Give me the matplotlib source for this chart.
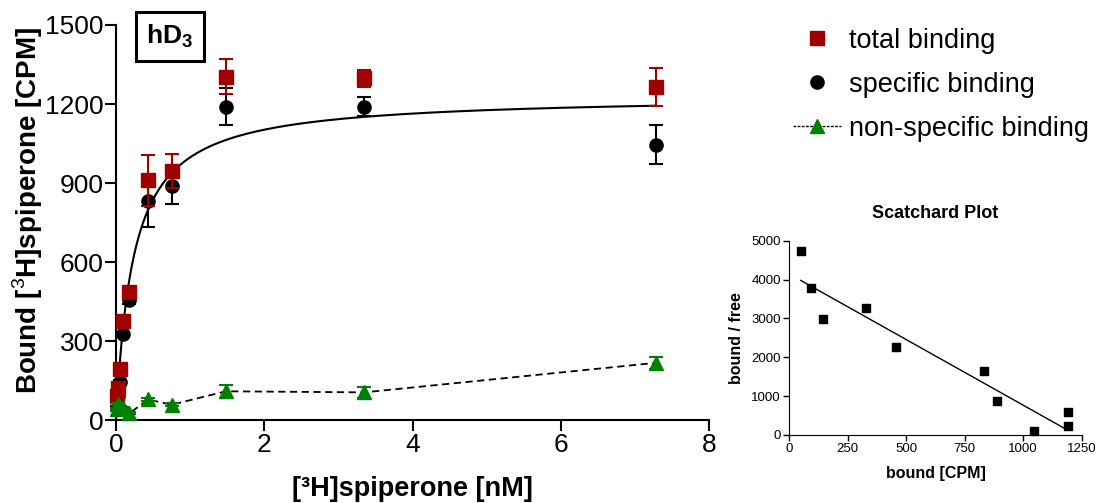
import matplotlib
matplotlib.use('Agg')
import matplotlib.pyplot as plt
from matplotlib.lines import Line2D
import numpy as np

plt.rcParams['font.family'] = ['Liberation Sans', 'DejaVu Sans']
plt.rcParams['mathtext.fontset'] = 'custom'
plt.rcParams['mathtext.rm'] = 'Liberation Sans'
plt.rcParams['mathtext.bf'] = 'Liberation Sans:bold'

# [3H]spiperone concentration (nM)
conc = [0.01, 0.03, 0.05, 0.10, 0.18, 0.43, 0.75, 1.48, 3.35, 7.28]

# binding (CPM) and SEM
total = [90, 120, 194, 376, 487, 911, 946, 1304, 1298, 1266]
total_err = [5, 5, 5, 5, 8, 97, 64, 67, 33, 72]
specific = [49, 93, 146, 327, 456, 832, 887, 1190, 1190, 1046]
specific_err = [5, 5, 5, 5, 16, 100, 68, 70, 36, 74]
nonspecific = [40, 60, 50, 45, 25, 78, 58, 109, 105, 217]
nonspecific_err = [4, 4, 4, 4, 4, 6, 6, 25, 22, 23]

# one-site fit of specific binding
bmax = 1232
kd = 0.235

# Scatchard transform
sc_bound = [48.7, 92.8, 146, 326.6, 456, 832, 886.6, 1046, 1190, 1190]
sc_ratio = [4727, 3790, 2985, 3260, 2272, 1655, 875, 103, 584, 232]
sc_slope = -3.377
sc_intercept = 4143

red = '#a00000'
green = '#008000'

fig = plt.figure(figsize=(10.99, 5.03), dpi=100)

# ---- main saturation plot ----
ax = fig.add_axes([0.1056, 0.165, 0.5396, 0.7853])

xfit = np.linspace(0, conc[-1], 300)
ax.plot(xfit, bmax * xfit / (kd + xfit), color='black', lw=1.5, zorder=2)

ax.errorbar(conc, specific, yerr=specific_err, fmt='o', color='black',
            ms=9.5, capsize=5, elinewidth=1.5, capthick=1.5, clip_on=False, zorder=3)
ax.errorbar(conc, total, yerr=total_err, fmt='s', color=red,
            ms=9.5, capsize=5, elinewidth=1.5, capthick=1.5, clip_on=False, zorder=4)
# dashed connecting line in black, triangles on top
ax.plot(conc, nonspecific, ls=(0, (4, 2.5)), color='black', lw=1.3, zorder=4.5)
ax.errorbar(conc, nonspecific, yerr=nonspecific_err, fmt='^', ls='none',
            color=green, ms=10, capsize=5,
            elinewidth=1.5, capthick=1.5, clip_on=False, zorder=5)

ax.set_xlim(0, 8)
ax.set_ylim(0, 1500)
ax.set_xticks([0, 2, 4, 6, 8])
ax.set_yticks([0, 300, 600, 900, 1200, 1500])
ax.spines['top'].set_visible(False)
ax.spines['right'].set_visible(False)
for s in ['left', 'bottom']:
    ax.spines[s].set_linewidth(1.5)
ax.tick_params(axis='both', length=8, width=1.5, labelsize=19, pad=1)
ax.set_xlabel('[³H]spiperone [nM]', fontsize=19.5, fontweight='bold', labelpad=14)
ax.set_ylabel('Bound [$^{3}$H]spiperone [CPM]', fontsize=20, fontweight='bold', labelpad=0)
ax.yaxis.set_label_coords(-0.12, 0.53)

ax.text(0.091, 0.971, 'hD$_\\mathbf{3}$', transform=ax.transAxes, fontsize=19,
        fontweight='bold', ha='center', va='center',
        bbox=dict(boxstyle='square,pad=0.4', fc='white', ec='black', lw=2.2))

handles = [
    Line2D([], [], marker='s', ls='none', color=red, ms=9.5),
    Line2D([], [], marker='o', ls='none', color='black', ms=9.5),
    Line2D([], [], marker='^', ls=(0, (2, 1)), color='black', lw=1,
           mfc=green, mec=green, ms=10),
]
fig.legend(handles, ['total binding', 'specific binding', 'non-specific binding'],
           loc='upper left', bbox_to_anchor=(0.722, 0.945), frameon=False,
           fontsize=19.5, handlelength=1.75, handletextpad=0.3,
           labelspacing=0.67, borderpad=0, borderaxespad=0)

# ---- Scatchard inset ----
ax2 = fig.add_axes([0.7182, 0.1352, 0.2661, 0.3863])
ax2.scatter(sc_bound, sc_ratio, marker='s', color='black', s=40, zorder=3, clip_on=False)
xl = np.array([min(sc_bound), 1176])
ax2.plot(xl, sc_slope * xl + sc_intercept, color='black', lw=1)
ax2.set_xlim(0, 1250)
ax2.set_ylim(0, 5000)
ax2.set_xticks([0, 250, 500, 750, 1000, 1250])
ax2.set_yticks([0, 1000, 2000, 3000, 4000, 5000])
ax2.spines['top'].set_visible(False)
ax2.spines['right'].set_visible(False)
ax2.tick_params(axis='both', length=4, width=1, labelsize=9.5, pad=2)
ax2.set_title('Scatchard Plot', fontsize=13, fontweight='bold', pad=16)
ax2.set_xlabel('bound [CPM]', fontsize=11.5, fontweight='bold', labelpad=8)
ax2.set_ylabel('bound / free', fontsize=11.5, fontweight='bold', labelpad=5)

fig.savefig('out.png', dpi=100)
